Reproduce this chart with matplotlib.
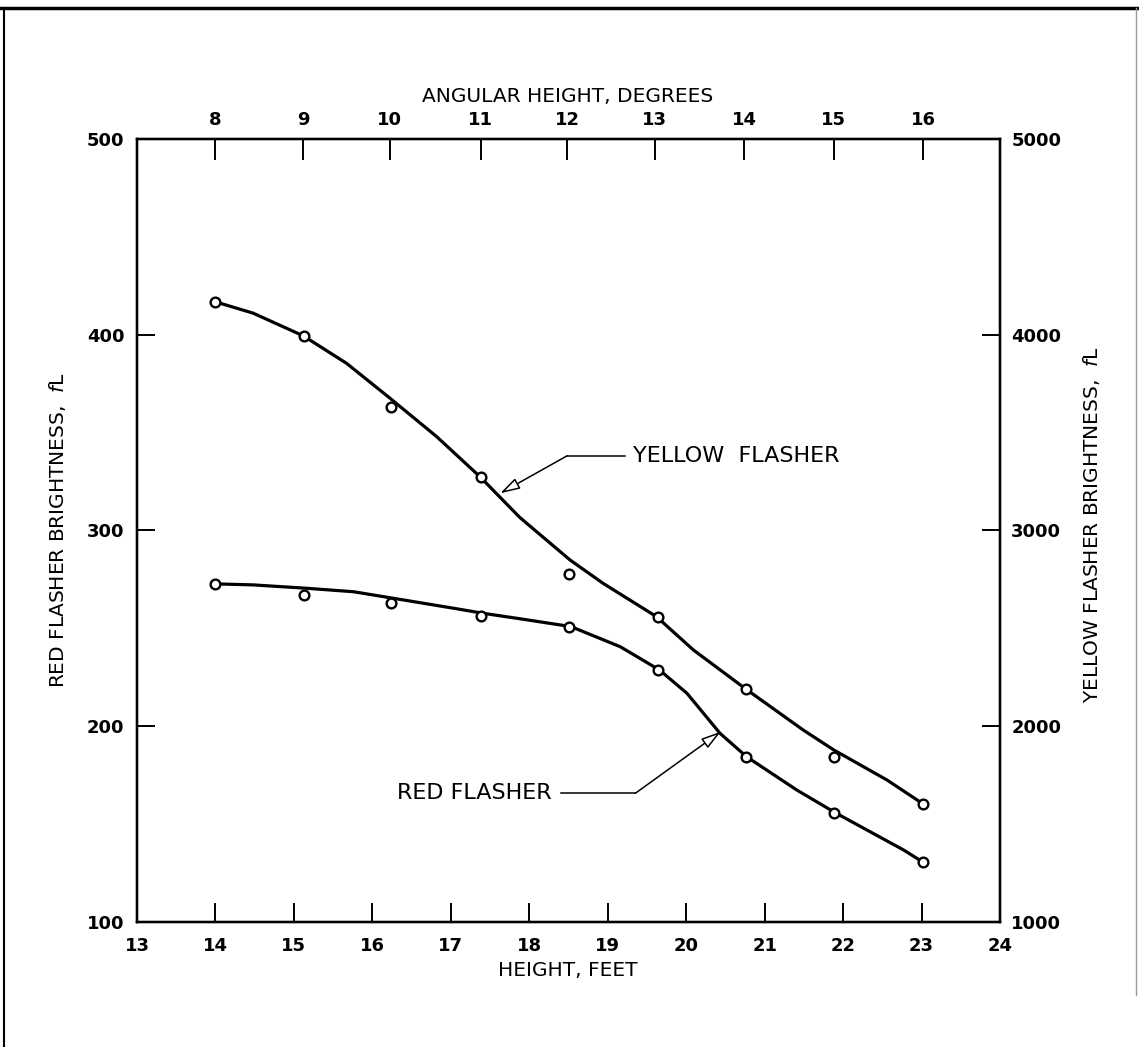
import matplotlib
matplotlib.use("Agg")
import matplotlib.pyplot as plt

# measured points (height in feet)
heights = [14.0, 15.13, 16.24, 17.38, 18.5, 19.64, 20.76, 21.88, 23.02]
red_pts = [272.7, 267.2, 262.8, 256.3, 250.9, 228.7, 184.4, 155.8, 130.5]
yellow_pts = [4169, 3994, 3632, 3272, 2778, 2557, 2190, 1844, 1603]

# faired curves as drawn on the sheet
red_curve_x = [14.01, 14.48, 15.15, 15.76, 16.26, 17.03, 17.41, 17.88, 18.53,
               19.16, 19.66, 20.01, 20.43, 20.77, 21.41, 21.9, 22.77, 23.02]
red_curve_y = [272.7, 272.2, 270.5, 268.7, 265.4, 260.3, 257.7, 254.9, 250.9,
               240.6, 228.7, 216.8, 196.4, 184.4, 167.4, 155.8, 136.8, 130.5]
yel_curve_x = [13.99, 14.48, 15.12, 15.67, 16.22, 16.82, 17.37, 17.88, 18.52,
               18.94, 19.62, 20.09, 20.76, 21.49, 21.88, 22.56, 23.02]
yel_curve_y = [4169, 4110, 3994, 3854, 3677, 3479, 3275, 3066, 2849,
               2730, 2560, 2390, 2190, 1981, 1879, 1725, 1603]

# top scale: angular height
deg_labels = ["8", "9", "10", "11", "12", "13", "14", "15", "16"]
deg_pos = [14.0, 15.12, 16.22, 17.38, 18.48, 19.6, 20.74, 21.88, 23.02]

x_ticks = list(range(13, 25))
red_ticks = [100, 200, 300, 400, 500]
yel_ticks = [1000, 2000, 3000, 4000, 5000]

# leader lines: tip, elbow, end of horizontal
yel_leader = [(17.63, 3190), (18.48, 3381), (19.22, 3381)]
red_leader = [(20.44, 197.2), (19.35, 165.7), (18.40, 165.7)]

fig = plt.figure(figsize=(11.39, 10.47), dpi=100)
ax = fig.add_axes([0.1203, 0.1194, 0.7577, 0.7479])
ax2 = ax.twinx()
ax3 = ax.twiny()

ax.set_xlim(13, 24)
ax.set_ylim(100, 500)
ax2.set_ylim(1000, 5000)
ax3.set_xlim(13, 24)

ax.plot(red_curve_x, red_curve_y, color="black", lw=2.3, solid_capstyle="round",
        solid_joinstyle="round")
ax.plot(heights, red_pts, "o", ms=7, mfc="white", mec="black", mew=1.7)
ax2.plot(yel_curve_x, yel_curve_y, color="black", lw=2.3, solid_capstyle="round",
         solid_joinstyle="round")
ax2.plot(heights, yellow_pts, "o", ms=7, mfc="white", mec="black", mew=1.7)

for a in (ax, ax2, ax3):
    for s in a.spines.values():
        s.set_linewidth(1.6)

tick_font = dict(fontsize=13, fontweight="bold", family="DejaVu Sans")
ax.set_xticks(x_ticks)
ax.set_xticklabels([str(v) for v in x_ticks], **tick_font)
ax.set_yticks(red_ticks)
ax.set_yticklabels([str(v) for v in red_ticks], **tick_font)
ax2.set_yticks(yel_ticks)
ax2.set_yticklabels([str(v) for v in yel_ticks], **tick_font)
ax3.set_xticks(deg_pos)
ax3.set_xticklabels(deg_labels, **tick_font)

ax.tick_params(axis="x", direction="in", length=14, width=1.4, pad=11, top=False)
ax.tick_params(axis="y", direction="in", length=13, width=1.4, pad=9, right=False)
ax2.tick_params(axis="y", direction="in", length=13, width=1.4, pad=8)
ax3.tick_params(axis="x", direction="in", length=15, width=1.4, pad=7)

# leaders with open arrowheads
arrow = dict(arrowstyle="-|>,head_length=1.2,head_width=0.35",
             fc="white", ec="black", lw=1.1, shrinkA=0, shrinkB=0)
ax2.plot([p[0] for p in yel_leader[1:]], [p[1] for p in yel_leader[1:]], color="black", lw=1.1)
ax2.annotate("", xy=yel_leader[0], xytext=yel_leader[1], arrowprops=arrow)
ax2.text(yel_leader[2][0] + 0.1, yel_leader[2][1], "YELLOW  FLASHER",
         fontsize=16, ha="left", va="center")

ax.plot([p[0] for p in red_leader[1:]], [p[1] for p in red_leader[1:]], color="black", lw=1.1)
ax.annotate("", xy=red_leader[0], xytext=red_leader[1], arrowprops=arrow)
ax.text(red_leader[2][0] - 0.12, red_leader[2][1], "RED FLASHER",
        fontsize=16, ha="right", va="center")

W, H = 1139, 1047
fig.text(568 / W, 1 - 96 / H, "ANGULAR HEIGHT, DEGREES", fontsize=14.5,
         ha="center", va="center")
fig.text(568 / W, 1 - 970 / H, "HEIGHT, FEET", fontsize=14.5, ha="center", va="center")
fig.text(58 / W, 1 - 530 / H, "RED FLASHER BRIGHTNESS,  $f$L", fontsize=14.5,
         rotation=90, ha="center", va="center")
fig.text(1092 / W, 1 - 525 / H, "YELLOW FLASHER BRIGHTNESS,  $f$L", fontsize=14.5,
         rotation=90, ha="center", va="center")

# scanned page frame
fig.add_artist(plt.Line2D([0, 1], [1 - 8 / H, 1 - 8 / H], color="black", lw=2.5))
fig.add_artist(plt.Line2D([4 / W, 4 / W], [0, 1 - 8 / H], color="black", lw=1.5))
fig.add_artist(plt.Line2D([1136 / W, 1136 / W], [0.05, 1 - 8 / H], color="0.6", lw=1.0))

fig.savefig("out.png", dpi=100, facecolor="white")
